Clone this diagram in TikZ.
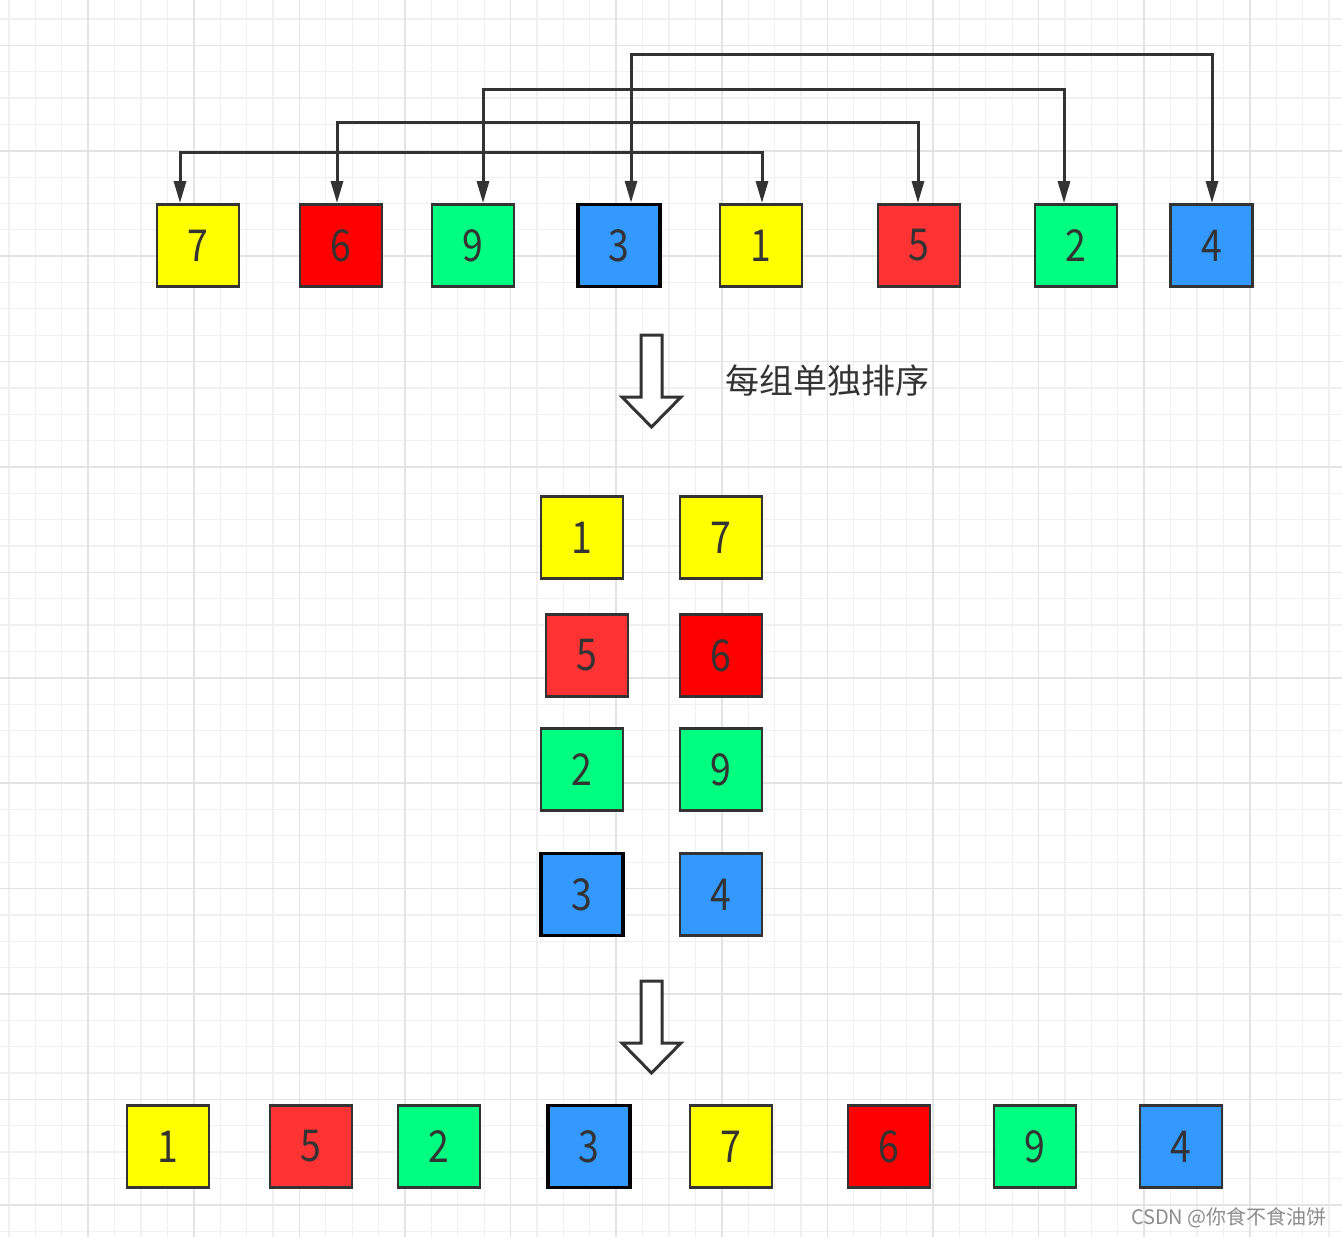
\documentclass[tikz,border=0pt]{standalone}
\usepackage{fontspec}
\usetikzlibrary{arrows.meta}
\newfontfamily\cjkf{Noto Sans CJK SC}
\newfontfamily\digf[FakeStretch=0.85]{Noto Sans CJK SC}
\definecolor{cyel}{HTML}{FFFF00}
\definecolor{cred}{HTML}{FF0000}
\definecolor{clred}{HTML}{FF3333}
\definecolor{cgrn}{HTML}{00FF80}
\definecolor{cblu}{HTML}{3399FF}
\definecolor{cdark}{HTML}{333333}
\definecolor{gminor}{HTML}{F0F0F0}
\definecolor{gmajor}{HTML}{E3E3E3}
\tikzset{
  sq/.style={draw=cdark, line width=2.8pt, minimum width=82pt, minimum height=82pt, inner sep=0pt,
    text=cdark, font=\digf\fontsize{44}{44}\selectfont},
  ybox/.style={sq, fill=cyel},
  rbox/.style={sq, fill=cred},
  lrbox/.style={sq, fill=clred},
  gbox/.style={sq, fill=cgrn},
  bbox/.style={sq, fill=cblu},
  blkbox/.style={bbox, draw=black, line width=3.4pt},
  link/.style={draw=cdark, line width=3pt,
    {Triangle[length=22pt,width=12pt]}-{Triangle[length=22pt,width=12pt]}},
  hollow/.style={draw=cdark, line width=3pt, fill=white, line join=miter},
}
\begin{document}
\begin{tikzpicture}[x=1pt,y=-1pt]
\useasboundingbox (0,0) rectangle (1342,1237);
\fill[white] (0,0) rectangle (1342,1237);
% grid
\foreach \k in {0,...,50}{\draw[gminor, line width=1.2pt] ({9+\k*26.4},0) -- ({9+\k*26.4},1237);}
\foreach \k in {0,...,46}{\draw[gminor, line width=1.2pt] (0,{19+\k*26.35}) -- (1342,{19+\k*26.35});}
\foreach \k in {3,7,...,47}{\draw[gmajor, line width=1.6pt] ({9+\k*26.4},0) -- ({9+\k*26.4},1237);}
\foreach \k in {1,5,...,45}{\draw[gmajor, line width=1.6pt] (0,{19+\k*26.35}) -- (1342,{19+\k*26.35});}

% top row
\node[ybox]  (t7) at (198,245.5) {7};
\node[rbox]  (t6) at (341,245.5) {6};
\node[gbox]  (t9) at (473,245.5) {9};
\node[blkbox] (t3) at (619,245.5) {3};
\node[ybox]  (t1) at (761,245.5) {1};
\node[lrbox] (t5) at (919,245.5) {5};
\node[gbox]  (t2) at (1076,245.5) {2};
\node[bbox]  (t4) at (1211.5,245.5) {4};

% group connectors
\draw[link] ([xshift=-18pt]t7.north) -- ++(0,-51) -| ([xshift=1pt]t1.north);
\draw[link] ([xshift=-4pt]t6.north) -- ++(0,-81) -| ([xshift=-1pt]t5.north);
\draw[link] ([xshift=10pt]t9.north) -- ++(0,-114) -| ([xshift=-12pt]t2.north);
\draw[link] ([xshift=12pt]t3.north) -- ++(0,-148) -| ([xshift=0.5pt]t4.north);

% hollow arrows
\draw[hollow] (641,335) -- (662,335) -- (662,397) -- (681,397) -- (651.5,427) -- (622,397) -- (641,397) -- cycle;
\draw[hollow] (641,981) -- (662,981) -- (662,1043) -- (681,1043) -- (651.5,1073) -- (622,1043) -- (641,1043) -- cycle;

\node[anchor=west, inner sep=0pt, text=cdark, font=\cjkf\fontsize{34}{34}\selectfont] (lbl) at (725,381) {每组单独排序};

% middle groups
\node[ybox]  (m1) at (582,537.5) {1};
\node[lrbox] (m5) at (587,655.5) {5};
\node[gbox]  (m2) at (582,769.5) {2};
\node[blkbox] (m3) at (582,894.5) {3};
\node[ybox]  (m7) at (721,537.5) {7};
\node[rbox]  (m6) at (721,655.5) {6};
\node[gbox]  (m9) at (721,769.5) {9};
\node[bbox]  (m4) at (721,894.5) {4};

% bottom row
\node[ybox]  (u1) at (168,1146.5) {1};
\node[lrbox] (u5) at (311,1146.5) {5};
\node[gbox]  (u2) at (439,1146.5) {2};
\node[blkbox] (u3) at (589,1146.5) {3};
\node[ybox]  (u7) at (731,1146.5) {7};
\node[rbox]  (u6) at (889,1146.5) {6};
\node[gbox]  (u9) at (1035,1146.5) {9};
\node[bbox]  (u4) at (1181,1146.5) {4};

\node[anchor=east, inner sep=0pt, text=black!45, font=\cjkf\fontsize{20}{20}\selectfont] (wm) at (1327,1218) {CSDN @你食不食油饼};
\end{tikzpicture}
\end{document}
